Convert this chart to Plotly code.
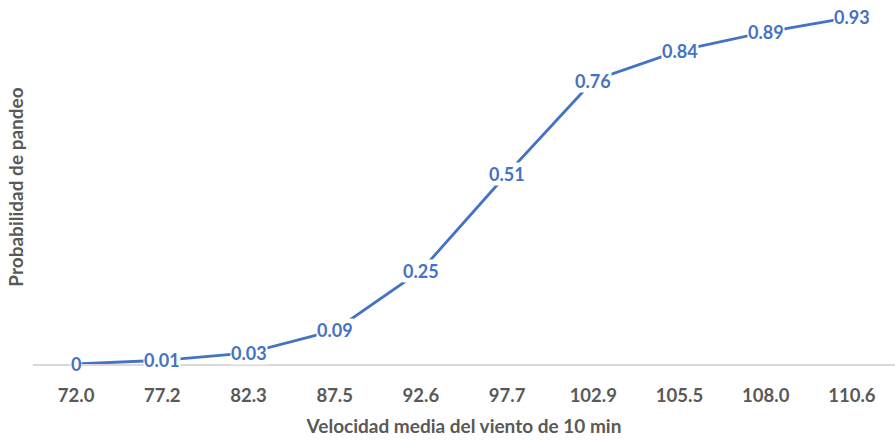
import plotly.graph_objects as go

# Wind speed categories (10-min mean) and buckling probability
velocidades = ["72.0", "77.2", "82.3", "87.5", "92.6", "97.7", "102.9", "105.5", "108.0", "110.6"]
probabilidad = [0, 0.01, 0.03, 0.09, 0.25, 0.51, 0.76, 0.84, 0.89, 0.93]
etiquetas = ["0", "0.01", "0.03", "0.09", "0.25", "0.51", "0.76", "0.84", "0.89", "0.93"]

azul = "#4472C4"
gris = "#595959"
fuente = "Lato, 'Open Sans', sans-serif"

fig = go.Figure()
fig.add_trace(go.Scatter(
    x=velocidades,
    y=probabilidad,
    mode="lines",
    line=dict(color=azul, width=2.8),
    hoverinfo="x+y",
    showlegend=False,
))

# Data labels centred on each point (category index), on a white box that hides the line beneath
for i, (yv, txt) in enumerate(zip(probabilidad, etiquetas)):
    fig.add_annotation(
        x=i, y=yv, text=f"<b>{txt}</b>", showarrow=False,
        font=dict(family=fuente, size=18, color=azul),
        bgcolor="white", borderpad=0,
        xanchor="center", yanchor="middle",
    )

fig.update_layout(
    width=895, height=440,
    margin=dict(l=33, r=0, t=10, b=76),
    paper_bgcolor="white", plot_bgcolor="white",
    font=dict(family=fuente, color=gris),
    xaxis=dict(
        type="category",
        categoryorder="array", categoryarray=velocidades,
        range=[-0.5, len(velocidades) - 0.5],
        showline=True, linecolor="#d9d9d9", linewidth=1.5,
        showgrid=False, ticks="", tickangle=0, ticklabelstandoff=14,
        tickfont=dict(family=fuente, size=18.5, color=gris, weight="bold"),
        title=dict(text="<b>Velocidad media del viento de 10 min</b>",
                   font=dict(family=fuente, size=19, color=gris), standoff=15),
    ),
    yaxis=dict(
        range=[0, 0.949],
        showticklabels=False, showgrid=False, zeroline=False, showline=False, ticks="",
        title=dict(text="<b>Probabilidad de pandeo</b>",
                   font=dict(family=fuente, size=19, color=gris), standoff=3),
    ),
)

fig.write_html("out.html")
